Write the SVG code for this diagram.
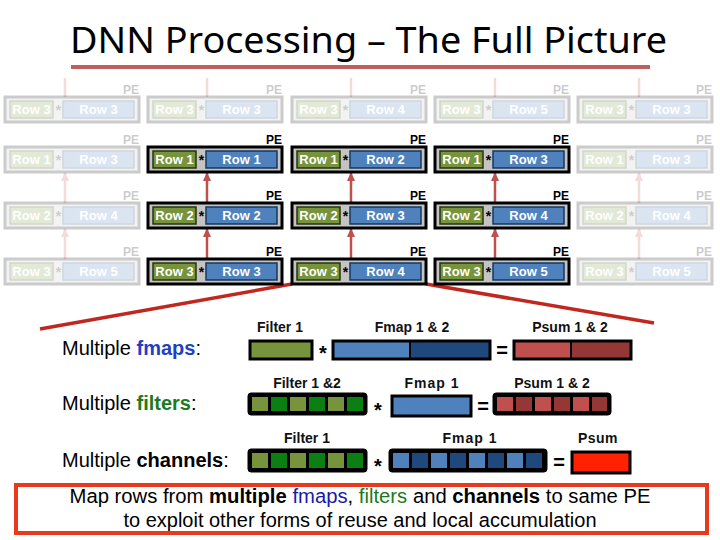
<svg xmlns="http://www.w3.org/2000/svg" width="720" height="540" viewBox="0 0 720 540">
<defs>
<style>
.bg{fill:#fff}
.box{fill:#c4c4c4;stroke:#000;stroke-width:3}
.g{fill:#77933c;stroke:#27340f;stroke-width:1.5}
.b{fill:#4f81bd;stroke:#17375e;stroke-width:1.5}
.rt{font-family:"Liberation Sans",Arial,sans-serif;font-weight:bold;font-size:13px;fill:#fff;text-anchor:middle}
.st{font-family:"Liberation Sans",Arial,sans-serif;font-weight:bold;font-size:14px;fill:#000;text-anchor:middle}
.pe{font-family:"Liberation Sans",Arial,sans-serif;font-weight:bold;font-size:12px;fill:#000;text-anchor:end}
.faded{opacity:0.2}
.arr{stroke:#c0504d;stroke-width:2.5;fill:none}
.big{stroke:#c0281f;stroke-width:3.5;fill:none}
.lbl{font-family:"Liberation Sans",Arial,sans-serif;font-weight:bold;font-size:14px;fill:#111;text-anchor:middle}
.side{font-family:"Liberation Sans",Arial,sans-serif;font-size:20px;fill:#000}
.op{font-family:"Liberation Sans",Arial,sans-serif;font-weight:bold;font-size:20px;fill:#000;text-anchor:middle}
.olive{fill:#77933c}.dg{fill:#0b7f12}
.lb{fill:#4f81bd}.db{fill:#1f497d}
.lr{fill:#c0504d}.dr{fill:#953735}
.frame{fill:#000;stroke:#000;stroke-width:1}
.note{font-family:"Liberation Sans",Arial,sans-serif;font-size:20px;fill:#000;text-anchor:middle}
</style>
<marker id="ah" markerUnits="userSpaceOnUse" markerWidth="9" markerHeight="8" refX="8" refY="4" orient="auto">
<path d="M0,0 L9,4 L0,8 z" fill="#c0504d"/>
</marker>
</defs>
<rect class="bg" x="0" y="0" width="720" height="540"/>

<g id="title">
<text x="70" y="53" font-family="'Noto Sans','Open Sans',sans-serif" font-size="36" fill="#000" textLength="597" lengthAdjust="spacingAndGlyphs">DNN Processing – The Full Picture</text>
<rect x="71" y="65" width="579" height="4" fill="#c0605e"/>
</g>

<g id="connectors">
<g class="faded">
<path class="arr" d="M65,78 V97 M207,78 V97 M351,78 V97 M495,78 V97 M639,78 V97"/>
<path class="arr" d="M65,203 V173" marker-end="url(#ah)"/>
<path class="arr" d="M65,259 V229" marker-end="url(#ah)"/>
<path class="arr" d="M639,203 V173" marker-end="url(#ah)"/>
<path class="arr" d="M639,259 V229" marker-end="url(#ah)"/>
</g>
<path class="arr" d="M207,203 V173" marker-end="url(#ah)"/>
<path class="arr" d="M207,259 V229" marker-end="url(#ah)"/>
<path class="arr" d="M351,203 V173" marker-end="url(#ah)"/>
<path class="arr" d="M351,259 V229" marker-end="url(#ah)"/>
<path class="arr" d="M495,203 V173" marker-end="url(#ah)"/>
<path class="arr" d="M495,259 V229" marker-end="url(#ah)"/>
<path class="big" d="M40,329 L292,284"/>
<path class="big" d="M426,284 L654,323"/>
</g>

<!-- faded PEs row 1 -->
<g id="pe-r1c1" class="faded" transform="translate(5,97)"><text class="pe" x="134" y="-3">PE</text><rect class="box" width="134" height="25"/><rect class="g" x="5" y="4" width="43" height="17"/><text class="rt" x="26.5" y="17">Row 3</text><text class="st" x="53.5" y="18">*</text><rect class="b" x="58" y="4" width="71" height="17"/><text class="rt" x="93.5" y="17">Row 3</text></g>
<g id="pe-r1c2" class="faded" transform="translate(148,97)"><text class="pe" x="134" y="-3">PE</text><rect class="box" width="134" height="25"/><rect class="g" x="5" y="4" width="43" height="17"/><text class="rt" x="26.5" y="17">Row 3</text><text class="st" x="53.5" y="18">*</text><rect class="b" x="58" y="4" width="71" height="17"/><text class="rt" x="93.5" y="17">Row 3</text></g>
<g id="pe-r1c3" class="faded" transform="translate(292,97)"><text class="pe" x="134" y="-3">PE</text><rect class="box" width="134" height="25"/><rect class="g" x="5" y="4" width="43" height="17"/><text class="rt" x="26.5" y="17">Row 3</text><text class="st" x="53.5" y="18">*</text><rect class="b" x="58" y="4" width="71" height="17"/><text class="rt" x="93.5" y="17">Row 4</text></g>
<g id="pe-r1c4" class="faded" transform="translate(435,97)"><text class="pe" x="134" y="-3">PE</text><rect class="box" width="134" height="25"/><rect class="g" x="5" y="4" width="43" height="17"/><text class="rt" x="26.5" y="17">Row 3</text><text class="st" x="53.5" y="18">*</text><rect class="b" x="58" y="4" width="71" height="17"/><text class="rt" x="93.5" y="17">Row 5</text></g>
<g id="pe-r1c5" class="faded" transform="translate(578,97)"><text class="pe" x="134" y="-3">PE</text><rect class="box" width="134" height="25"/><rect class="g" x="5" y="4" width="43" height="17"/><text class="rt" x="26.5" y="17">Row 3</text><text class="st" x="53.5" y="18">*</text><rect class="b" x="58" y="4" width="71" height="17"/><text class="rt" x="93.5" y="17">Row 3</text></g>

<!-- row 2 -->
<g id="pe-r2c1" class="faded" transform="translate(5,147)"><text class="pe" x="134" y="-3">PE</text><rect class="box" width="134" height="25"/><rect class="g" x="5" y="4" width="43" height="17"/><text class="rt" x="26.5" y="17">Row 1</text><text class="st" x="53.5" y="18">*</text><rect class="b" x="58" y="4" width="71" height="17"/><text class="rt" x="93.5" y="17">Row 3</text></g>
<g id="pe-r2c2" transform="translate(148,147)"><text class="pe" x="134" y="-3">PE</text><rect class="box" width="134" height="25"/><rect class="g" x="5" y="4" width="43" height="17"/><text class="rt" x="26.5" y="17">Row 1</text><text class="st" x="53.5" y="18">*</text><rect class="b" x="58" y="4" width="71" height="17"/><text class="rt" x="93.5" y="17">Row 1</text></g>
<g id="pe-r2c3" transform="translate(292,147)"><text class="pe" x="134" y="-3">PE</text><rect class="box" width="134" height="25"/><rect class="g" x="5" y="4" width="43" height="17"/><text class="rt" x="26.5" y="17">Row 1</text><text class="st" x="53.5" y="18">*</text><rect class="b" x="58" y="4" width="71" height="17"/><text class="rt" x="93.5" y="17">Row 2</text></g>
<g id="pe-r2c4" transform="translate(435,147)"><text class="pe" x="134" y="-3">PE</text><rect class="box" width="134" height="25"/><rect class="g" x="5" y="4" width="43" height="17"/><text class="rt" x="26.5" y="17">Row 1</text><text class="st" x="53.5" y="18">*</text><rect class="b" x="58" y="4" width="71" height="17"/><text class="rt" x="93.5" y="17">Row 3</text></g>
<g id="pe-r2c5" class="faded" transform="translate(578,147)"><text class="pe" x="134" y="-3">PE</text><rect class="box" width="134" height="25"/><rect class="g" x="5" y="4" width="43" height="17"/><text class="rt" x="26.5" y="17">Row 1</text><text class="st" x="53.5" y="18">*</text><rect class="b" x="58" y="4" width="71" height="17"/><text class="rt" x="93.5" y="17">Row 3</text></g>

<!-- row 3 -->
<g id="pe-r3c1" class="faded" transform="translate(5,203)"><text class="pe" x="134" y="-3">PE</text><rect class="box" width="134" height="25"/><rect class="g" x="5" y="4" width="43" height="17"/><text class="rt" x="26.5" y="17">Row 2</text><text class="st" x="53.5" y="18">*</text><rect class="b" x="58" y="4" width="71" height="17"/><text class="rt" x="93.5" y="17">Row 4</text></g>
<g id="pe-r3c2" transform="translate(148,203)"><text class="pe" x="134" y="-3">PE</text><rect class="box" width="134" height="25"/><rect class="g" x="5" y="4" width="43" height="17"/><text class="rt" x="26.5" y="17">Row 2</text><text class="st" x="53.5" y="18">*</text><rect class="b" x="58" y="4" width="71" height="17"/><text class="rt" x="93.5" y="17">Row 2</text></g>
<g id="pe-r3c3" transform="translate(292,203)"><text class="pe" x="134" y="-3">PE</text><rect class="box" width="134" height="25"/><rect class="g" x="5" y="4" width="43" height="17"/><text class="rt" x="26.5" y="17">Row 2</text><text class="st" x="53.5" y="18">*</text><rect class="b" x="58" y="4" width="71" height="17"/><text class="rt" x="93.5" y="17">Row 3</text></g>
<g id="pe-r3c4" transform="translate(435,203)"><text class="pe" x="134" y="-3">PE</text><rect class="box" width="134" height="25"/><rect class="g" x="5" y="4" width="43" height="17"/><text class="rt" x="26.5" y="17">Row 2</text><text class="st" x="53.5" y="18">*</text><rect class="b" x="58" y="4" width="71" height="17"/><text class="rt" x="93.5" y="17">Row 4</text></g>
<g id="pe-r3c5" class="faded" transform="translate(578,203)"><text class="pe" x="134" y="-3">PE</text><rect class="box" width="134" height="25"/><rect class="g" x="5" y="4" width="43" height="17"/><text class="rt" x="26.5" y="17">Row 2</text><text class="st" x="53.5" y="18">*</text><rect class="b" x="58" y="4" width="71" height="17"/><text class="rt" x="93.5" y="17">Row 4</text></g>

<!-- row 4 -->
<g id="pe-r4c1" class="faded" transform="translate(5,259)"><text class="pe" x="134" y="-3">PE</text><rect class="box" width="134" height="25"/><rect class="g" x="5" y="4" width="43" height="17"/><text class="rt" x="26.5" y="17">Row 3</text><text class="st" x="53.5" y="18">*</text><rect class="b" x="58" y="4" width="71" height="17"/><text class="rt" x="93.5" y="17">Row 5</text></g>
<g id="pe-r4c2" transform="translate(148,259)"><text class="pe" x="134" y="-3">PE</text><rect class="box" width="134" height="25"/><rect class="g" x="5" y="4" width="43" height="17"/><text class="rt" x="26.5" y="17">Row 3</text><text class="st" x="53.5" y="18">*</text><rect class="b" x="58" y="4" width="71" height="17"/><text class="rt" x="93.5" y="17">Row 3</text></g>
<g id="pe-r4c3" transform="translate(292,259)"><text class="pe" x="134" y="-3">PE</text><rect class="box" width="134" height="25"/><rect class="g" x="5" y="4" width="43" height="17"/><text class="rt" x="26.5" y="17">Row 3</text><text class="st" x="53.5" y="18">*</text><rect class="b" x="58" y="4" width="71" height="17"/><text class="rt" x="93.5" y="17">Row 4</text></g>
<g id="pe-r4c4" transform="translate(435,259)"><text class="pe" x="134" y="-3">PE</text><rect class="box" width="134" height="25"/><rect class="g" x="5" y="4" width="43" height="17"/><text class="rt" x="26.5" y="17">Row 3</text><text class="st" x="53.5" y="18">*</text><rect class="b" x="58" y="4" width="71" height="17"/><text class="rt" x="93.5" y="17">Row 5</text></g>
<g id="pe-r4c5" class="faded" transform="translate(578,259)"><text class="pe" x="134" y="-3">PE</text><rect class="box" width="134" height="25"/><rect class="g" x="5" y="4" width="43" height="17"/><text class="rt" x="26.5" y="17">Row 3</text><text class="st" x="53.5" y="18">*</text><rect class="b" x="58" y="4" width="71" height="17"/><text class="rt" x="93.5" y="17">Row 5</text></g>

<!-- Multiple fmaps -->
<g id="fmaps">
<text class="side" x="62" y="355">Multiple <tspan font-weight="bold" fill="#1f3fc4">fmaps</tspan>:</text>
<text class="lbl" x="280" y="332">Filter 1</text>
<text class="lbl" x="412" y="332">Fmap 1 &amp; 2</text>
<text class="lbl" x="570" y="332">Psum 1 &amp; 2</text>
<rect x="250" y="341" width="62" height="18" class="olive" stroke="#000" stroke-width="3"/>
<text class="op" x="323" y="360">*</text>
<rect x="333" y="341" width="77" height="18" class="lb"/>
<rect x="410" y="341" width="80" height="18" class="db"/>
<rect x="333" y="341" width="157" height="18" fill="none" stroke="#000" stroke-width="3"/>
<line x1="410" y1="341" x2="410" y2="359" stroke="#000" stroke-width="2"/>
<text class="op" x="502" y="357">=</text>
<rect x="514" y="341" width="57" height="18" class="lr"/>
<rect x="571" y="341" width="60" height="18" class="dr"/>
<rect x="514" y="341" width="117" height="18" fill="none" stroke="#000" stroke-width="3"/>
<line x1="571" y1="341" x2="571" y2="359" stroke="#000" stroke-width="2"/>
</g>

<!-- Multiple filters -->
<g id="filters">
<text class="side" x="62" y="410">Multiple <tspan font-weight="bold" fill="#1d7a1d">filters</tspan>:</text>
<text class="lbl" x="307" y="388">Filter 1 &amp;2</text>
<text class="lbl" x="432" y="388" letter-spacing="1">Fmap 1</text>
<text class="lbl" x="552" y="388">Psum 1 &amp; 2</text>
<rect class="frame" x="248" y="393" width="119" height="22" rx="3"/>
<rect class="olive" x="252" y="397" width="16" height="14"/>
<rect class="dg" x="271" y="397" width="16" height="14"/>
<rect class="olive" x="290" y="397" width="16" height="14"/>
<rect class="dg" x="309" y="397" width="16" height="14"/>
<rect class="olive" x="328" y="397" width="16" height="14"/>
<rect class="dg" x="347" y="397" width="16" height="14"/>
<text class="op" x="378" y="417">*</text>
<rect x="392" y="396" width="79" height="20" class="lb" stroke="#000" stroke-width="3"/>
<text class="op" x="483" y="413">=</text>
<rect class="frame" x="493" y="393" width="118" height="22" rx="3"/>
<rect class="lr" x="497" y="397" width="16" height="14"/>
<rect class="dr" x="516" y="397" width="16" height="14"/>
<rect class="lr" x="535" y="397" width="16" height="14"/>
<rect class="dr" x="554" y="397" width="16" height="14"/>
<rect class="lr" x="573" y="397" width="16" height="14"/>
<rect class="dr" x="592" y="397" width="15" height="14"/>
</g>

<!-- Multiple channels -->
<g id="channels">
<text class="side" x="62" y="467">Multiple <tspan font-weight="bold">channels</tspan>:</text>
<text class="lbl" x="307" y="443">Filter 1</text>
<text class="lbl" x="470" y="443" letter-spacing="1">Fmap 1</text>
<text class="lbl" x="598" y="443" letter-spacing="0.5">Psum</text>
<rect class="frame" x="248" y="449" width="119" height="23" rx="3"/>
<rect class="olive" x="252" y="453" width="16" height="15"/>
<rect class="dg" x="271" y="453" width="16" height="15"/>
<rect class="olive" x="290" y="453" width="16" height="15"/>
<rect class="dg" x="309" y="453" width="16" height="15"/>
<rect class="olive" x="328" y="453" width="16" height="15"/>
<rect class="dg" x="347" y="453" width="16" height="15"/>
<text class="op" x="378" y="473">*</text>
<rect class="frame" x="389" y="449" width="158" height="23" rx="3"/>
<rect class="lb" x="393" y="453" width="16" height="15"/>
<rect class="db" x="412" y="453" width="16" height="15"/>
<rect class="lb" x="431" y="453" width="16" height="15"/>
<rect class="db" x="450" y="453" width="16" height="15"/>
<rect class="lb" x="469" y="453" width="16" height="15"/>
<rect class="db" x="488" y="453" width="16" height="15"/>
<rect class="lb" x="507" y="453" width="16" height="15"/>
<rect class="db" x="526" y="453" width="16" height="15"/>
<text class="op" x="559" y="469">=</text>
<rect x="572" y="452" width="58" height="21" fill="#ff2200" stroke="#000" stroke-width="3"/>
</g>

<g id="note">
<rect x="16" y="485" width="691" height="48" fill="#fff" stroke="#e8391e" stroke-width="4"/>
<text class="note" x="360" y="503" textLength="581" lengthAdjust="spacingAndGlyphs">Map rows from <tspan font-weight="bold">multiple</tspan> <tspan fill="#1a1aa8">fmaps</tspan>, <tspan fill="#1d7a1d">filters</tspan> and <tspan font-weight="bold">channels</tspan> to same PE</text>
<text class="note" x="360" y="527" textLength="473" lengthAdjust="spacingAndGlyphs">to exploit other forms of reuse and local accumulation</text>
</g>
</svg>
